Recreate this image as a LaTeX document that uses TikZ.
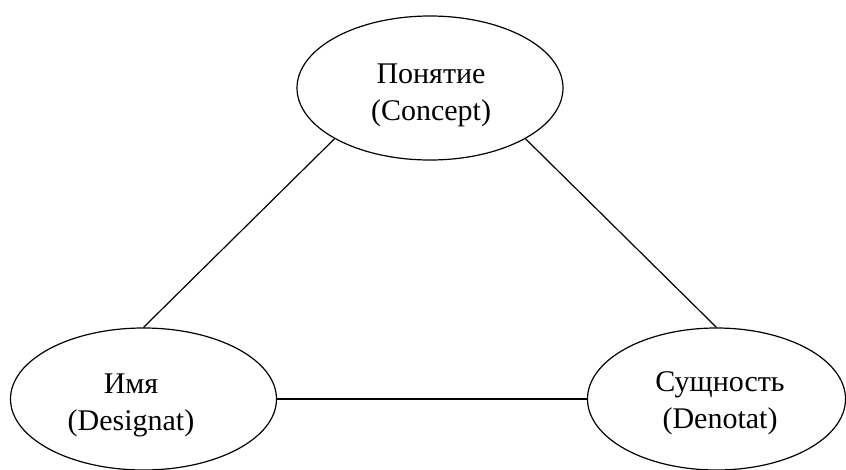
\documentclass[tikz,border=0pt]{standalone}
\usepackage{fontspec}
\setmainfont{Liberation Serif}
\usetikzlibrary{shapes.geometric}

\begin{document}
\begin{tikzpicture}[x=1pt, y=-1pt, line width=1.2pt,
  term/.style={draw, ellipse, inner sep=0pt, minimum width=266pt, minimum height=144pt},
  caption/.style={align=center, inner sep=0pt, font=\fontsize{30}{37}\selectfont},
  link/.style={draw}]
  \useasboundingbox (0,0) rectangle (846,469);

  % the three corners of the semiotic triangle
  \node[term] (concept) at (430,88) {};
  \node[term, minimum height=142pt] (designat) at (143.5,399) {};
  \node[term, minimum width=258pt, minimum height=142pt] (denotat) at (716.5,399) {};

  % their captions
  \node[caption] (concept-text) at (431,95) {Понятие\\(Concept)};
  \node[caption] (designat-text) at (131,405) {Имя\\(Designat)};
  \node[caption] (denotat-text) at (720,403) {Сущность\\(Denotat)};

  % sides of the triangle
  \path[link] (concept.208) -- (designat.north);
  \path[link] (concept.332) -- (denotat.north);
  \path[link] (designat.east) -- (denotat.west);
\end{tikzpicture}
\end{document}
